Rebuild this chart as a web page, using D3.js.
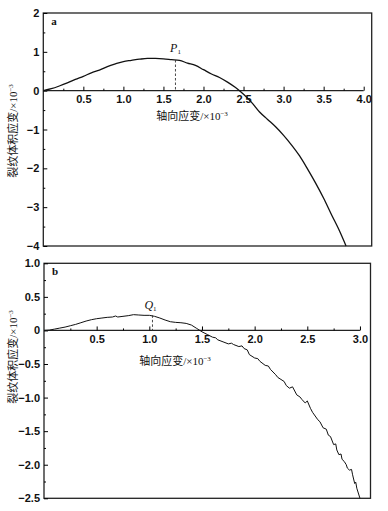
<!DOCTYPE html>
<html lang="zh">
<head>
<meta charset="UTF-8">
<title>裂纹体积应变</title>
<style>
  body { margin: 0; background: #fff; }
  svg text { fill: #111; }
</style>
</head>
<body>
<script src="https://d3js.org/d3.v7.min.js"></script>
<script>

// panel a data (axial strain, crack volumetric strain), ×10^-3
const aStrain = [0, 0.1, 0.2, 0.3, 0.4, 0.5, 0.6, 0.7, 0.8, 0.9, 1.0, 1.1, 1.2, 1.3, 1.4, 1.5, 1.6, 1.7, 1.8, 1.9, 2.0, 2.1, 2.2, 2.3, 2.4, 2.45, 2.5, 2.6, 2.7, 2.8, 2.9, 3.0, 3.1, 3.2, 3.3, 3.4, 3.5, 3.6, 3.7, 3.78];
const aCrack = [0, 0.05, 0.12, 0.2, 0.29, 0.37, 0.46, 0.53, 0.62, 0.69, 0.75, 0.78, 0.81, 0.83, 0.83, 0.82, 0.8, 0.78, 0.71, 0.65, 0.54, 0.43, 0.34, 0.22, 0.08, 0, -0.09, -0.3, -0.55, -0.74, -0.93, -1.15, -1.4, -1.68, -2.02, -2.38, -2.77, -3.2, -3.62, -4.0];

// panel b data
const bStrain = [0, 0.05, 0.1, 0.15, 0.2, 0.25, 0.3, 0.35, 0.4, 0.45, 0.5, 0.55, 0.6, 0.65, 0.68, 0.7, 0.75, 0.8, 0.85, 0.9, 0.95, 1.0, 1.05, 1.1, 1.15, 1.2, 1.25, 1.3, 1.35, 1.4, 1.45, 1.5, 1.55, 1.6, 1.63, 1.65, 1.7, 1.75, 1.78, 1.8, 1.85, 1.88, 1.9, 1.93, 1.95, 2.0, 2.03, 2.05, 2.1, 2.13, 2.15, 2.2, 2.22, 2.25, 2.28, 2.3, 2.33, 2.36, 2.4, 2.43, 2.45, 2.48, 2.5, 2.53, 2.55, 2.6, 2.62, 2.65, 2.68, 2.7, 2.72, 2.75, 2.77, 2.78, 2.8, 2.82, 2.83, 2.85, 2.87, 2.88, 2.9, 2.92, 2.93, 2.95, 2.96, 2.97, 3.0];
const bCrack = [0, 0.005, 0.02, 0.035, 0.05, 0.07, 0.09, 0.115, 0.14, 0.16, 0.175, 0.185, 0.195, 0.2, 0.215, 0.2, 0.21, 0.22, 0.235, 0.23, 0.225, 0.225, 0.21, 0.185, 0.155, 0.13, 0.12, 0.115, 0.105, 0.08, 0.03, -0.02, -0.06, -0.1, -0.11, -0.14, -0.17, -0.2, -0.19, -0.21, -0.24, -0.23, -0.27, -0.29, -0.36, -0.41, -0.42, -0.46, -0.52, -0.53, -0.58, -0.66, -0.7, -0.73, -0.76, -0.82, -0.86, -0.84, -0.96, -0.99, -1.03, -1.08, -1.05, -1.16, -1.22, -1.33, -1.36, -1.45, -1.47, -1.56, -1.58, -1.7, -1.69, -1.78, -1.85, -1.84, -1.92, -1.95, -2.0, -2.05, -2.08, -2.07, -2.15, -2.28, -2.26, -2.35, -2.5];

// tick values
const aXTicks = [0.5, 1.0, 1.5, 2.0, 2.5, 3.0, 3.5, 4.0];
const aYTicks = [2, 1, 0, -1, -2, -3, -4];
const bXTicks = [0.5, 1.0, 1.5, 2.0, 2.5, 3.0];
const bYTicks = [1.0, 0.5, 0, -0.5, -1.0, -1.5, -2.0, -2.5];

// marked points
const aMark = { name: "P", sub: "1", x: 1.65, y: 0.79 };
const bMark = { name: "Q", sub: "1", x: 1.03, y: 0.225 };

const W = 388, H = 511;
const svg = d3.select("body").append("svg")
  .attr("width", W).attr("height", H)
  .style("font-family", "'Liberation Serif', 'DejaVu Serif', serif");

svg.append("rect").attr("width", W).attr("height", H).attr("fill", "#fff");

function panel(o) {
  const x = d3.scaleLinear().domain(o.xDomain).range(o.xRange);
  const y = d3.scaleLinear().domain(o.yDomain).range(o.yRange);
  const g = svg.append("g");

  // frame
  g.append("rect")
    .attr("x", o.xRange[0]).attr("y", o.yRange[1])
    .attr("width", o.xRange[1] - o.xRange[0])
    .attr("height", o.yRange[0] - o.yRange[1])
    .attr("fill", "none").attr("stroke", "#222").attr("stroke-width", 1.3);

  // y axis: major + minor ticks pointing inward
  const yMinor = d3.range(o.yDomain[0], o.yDomain[1] + 1e-9, o.yMinorStep)
    .filter(v => !o.yTicks.some(t => Math.abs(t - v) < 1e-9));
  g.append("g").attr("transform", `translate(${o.xRange[0]},0)`)
    .call(d3.axisLeft(y).tickValues(yMinor).tickSize(-2).tickFormat(""))
    .call(s => s.select(".domain").remove());
  g.append("g").attr("transform", `translate(${o.xRange[0]},0)`)
    .call(d3.axisLeft(y).tickValues(o.yTicks).tickSize(-4).tickPadding(4).tickFormat(o.yFormat))
    .call(s => s.select(".domain").remove())
    .call(s => s.selectAll("text").attr("font-size", 11).attr("font-weight", "bold").attr("fill", "#111"));

  // x axis at y = 0, ticks pointing up
  const xMinor = d3.range(o.xMinorStep, o.xTicks[o.xTicks.length - 1] + 1e-9, o.xMinorStep)
    .filter(v => !o.xTicks.some(t => Math.abs(t - v) < 1e-9));
  g.append("line")
    .attr("x1", x(0)).attr("x2", x(o.xTicks[o.xTicks.length - 1]))
    .attr("y1", y(0)).attr("y2", y(0))
    .attr("stroke", "#222").attr("stroke-width", 1.2);
  g.append("g").attr("transform", `translate(0,${y(0)})`)
    .call(d3.axisBottom(x).tickValues(xMinor).tickSize(-2).tickFormat(""))
    .call(s => s.select(".domain").remove());
  g.append("g").attr("transform", `translate(0,${y(0)})`)
    .call(d3.axisBottom(x).tickValues(o.xTicks).tickSize(-4).tickPadding(5).tickFormat(d3.format(".1f")))
    .call(s => s.select(".domain").remove())
    .call(s => s.selectAll("text").attr("font-size", 11).attr("font-weight", "bold").attr("fill", "#111"));

  // curve
  const pts = o.xs.map((v, i) => [v, o.ys[i]]);
  g.append("path").datum(pts)
    .attr("fill", "none").attr("stroke", "#111").attr("stroke-width", o.lw)
    .attr("stroke-linejoin", "round")
    .attr("d", d3.line().x(d => x(d[0])).y(d => y(d[1])).curve(o.curve));

  // dashed marker
  g.append("line")
    .attr("x1", x(o.mark.x)).attr("x2", x(o.mark.x))
    .attr("y1", y(o.mark.y)).attr("y2", y(0))
    .attr("stroke", "#333").attr("stroke-width", 0.9).attr("stroke-dasharray", "2.5,2");
  const mt = g.append("text")
    .attr("x", x(o.mark.x) + o.markDx).attr("y", y(o.mark.y) + o.markDy)
    .attr("font-size", 12).attr("font-style", "italic").attr("text-anchor", "middle");
  mt.append("tspan").text(o.mark.name);
  mt.append("tspan").attr("font-size", 7).attr("font-style", "normal").attr("dy", 2).text(o.mark.sub);

  // panel letter
  g.append("text").attr("x", o.xRange[0] + 8).attr("y", o.yRange[1] + 12)
    .attr("font-size", 11).attr("font-weight", "bold").text(o.letter);

  // x title
  const xt = g.append("text").attr("x", o.xTitle[0]).attr("y", o.xTitle[1])
    .attr("font-size", 11).attr("text-anchor", "middle");
  xt.append("tspan").attr("font-family", "'Noto Sans CJK SC'").text("轴向应变");
  xt.append("tspan").text("/×10");
  xt.append("tspan").attr("font-size", 7).attr("dy", -4).text("−3");

  // y title
  const yt = g.append("text")
    .attr("transform", `translate(${o.yTitle[0]},${o.yTitle[1]}) rotate(-90)`)
    .attr("font-size", 11).attr("text-anchor", "middle");
  yt.append("tspan").attr("font-family", "'Noto Sans CJK SC'").text("裂纹体积应变");
  yt.append("tspan").text("/×10");
  yt.append("tspan").attr("font-size", 7).attr("dy", -4).text("−3");
}

panel({
  xs: aStrain, ys: aCrack,
  xDomain: [0, 4.1], xRange: [43.3, 371.7],
  yDomain: [-4, 2], yRange: [246, 13],
  xTicks: aXTicks, yTicks: aYTicks, xMinorStep: 0.25, yMinorStep: 0.5,
  yFormat: d3.format("d"),
  mark: aMark, markDx: 0, markDy: -8,
  letter: "a", lw: 1.3, curve: d3.curveMonotoneX,
  xTitle: [192, 120], yTitle: [17, 131]
});

panel({
  xs: bStrain, ys: bCrack,
  xDomain: [0, 3.1], xRange: [44, 370.5],
  yDomain: [-2.5, 1.0], yRange: [498.3, 263.3],
  xTicks: bXTicks, yTicks: bYTicks, xMinorStep: 0.25, yMinorStep: 0.25,
  yFormat: d => d === 0 ? "0" : d3.format(".1f")(d),
  mark: bMark, markDx: -2, markDy: -6,
  letter: "b", lw: 1, curve: d3.curveLinear,
  xTitle: [175, 365], yTitle: [17, 357]
});

</script>
</body>
</html>
